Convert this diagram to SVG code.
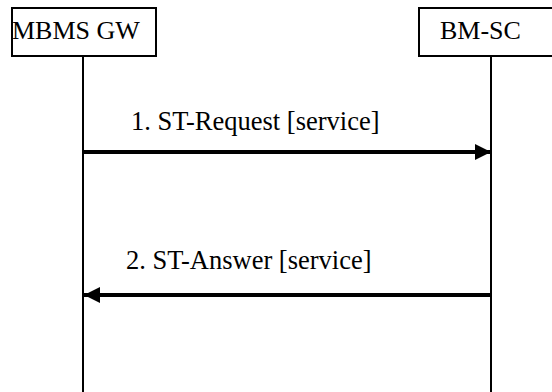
<svg xmlns="http://www.w3.org/2000/svg" width="552" height="392" viewBox="0 0 552 392">
<style>
.box{fill:#fff;stroke:#000;stroke-width:2}
.life{stroke:#000;stroke-width:2;fill:none}
.msg{stroke:#000;stroke-width:4;fill:none}
.t{font-size:26px;fill:#000}
.m{font-size:26.5px;fill:#000}
</style>
<defs>
<marker id="ah" viewBox="0 0 16 16" refX="16" refY="8" markerWidth="16" markerHeight="16" markerUnits="userSpaceOnUse" orient="auto">
<path d="M0,0 L16,8 L0,16 Z" fill="#000"/>
</marker>
</defs>
<rect width="552" height="392" fill="#fff"/>
<g font-family="'Liberation Serif', 'DejaVu Serif', serif">
<g id="mbms-gw">
<rect class="box" x="12" y="8" width="144" height="48"/>
<line class="life" x1="83" y1="56" x2="83" y2="392"/>
<text class="t" x="12" y="39">MBMS GW</text>
</g>
<g id="bm-sc">
<rect class="box" x="419" y="8" width="140" height="48"/>
<line class="life" x1="491" y1="56" x2="491" y2="392"/>
<text class="t" x="440" y="39">BM-SC</text>
</g>
<g id="connectors">
<line class="msg" x1="83" y1="152" x2="491" y2="152" marker-end="url(#ah)"/>
<text class="m" x="131" y="130">1. ST-Request [service]</text>
<line class="msg" x1="491" y1="295" x2="84" y2="295" marker-end="url(#ah)"/>
<text class="m" x="126" y="269">2. ST-Answer [service]</text>
</g>
</g>
</svg>
